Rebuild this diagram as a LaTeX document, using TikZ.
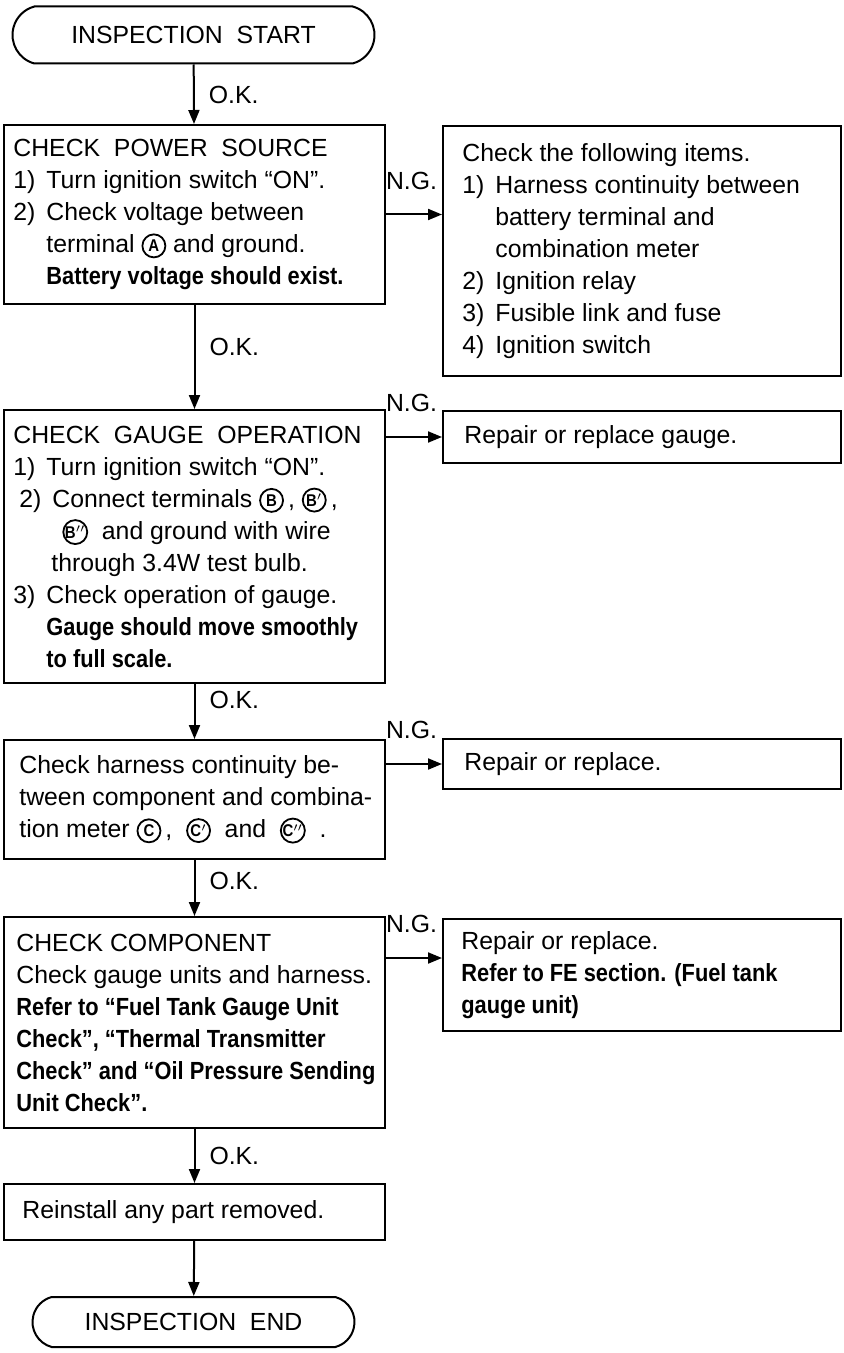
\documentclass[tikz,border=0pt]{standalone}
\usepackage{fontspec}
\setmainfont{Liberation Sans}[BoldFeatures={FakeStretch=0.88}]
\usetikzlibrary{arrows.meta, positioning, shapes.misc}
\tikzset{
  box/.style={draw, line width=1pt, anchor=north west, inner sep=0pt},
  termbox/.style={draw, line width=1pt, rounded rectangle, rounded rectangle arc length=150, inner sep=0pt},
  txt/.style={anchor=west, align=left, inner sep=0pt},
  flow/.style={draw, line width=1pt, -{Triangle[length=7pt, width=5.5pt]}},
  ok/.style={right=7pt, inner sep=0pt},
  ng/.style={anchor=south east, inner sep=0pt, xshift=-2pt, yshift=12pt},
  % Circled terminal letter
  circ/.style={circle, draw, line width=0.9pt, inner sep=0pt, minimum size=11.5pt, font=\fontsize{8.5}{9}\selectfont\bfseries}
}
\newcommand{\tmark}[1]{\tikz[baseline={([yshift=-0.4pt]T.base)}]\node[circ] (T) {#1};}
\newcommand{\itm}[1]{\makebox[16.5pt][l]{#1}}
\newcommand{\indt}{\hspace*{16.5pt}}

\begin{document}
\begin{tikzpicture}[x=0.5pt, y=-0.5pt, font=\fontsize{12.4}{16}\selectfont]
  \useasboundingbox (0,0) rectangle (843,1353);

  % ---- Start / end terminators ---------------------------------------------
  \node[termbox, minimum width=181pt, minimum height=28.5pt] (start) at (193.5, 35) {INSPECTION\ \ START};
  \node[termbox, minimum width=161pt, minimum height=25pt] (finish) at (193.5, 1322) {INSPECTION\ \ END};

  % ---- Main column of checks -----------------------------------------------
  \node[box, minimum width=190.5pt, minimum height=89.5pt] (pwr) at (3, 124) {};
  \node[box, minimum width=190.5pt, minimum height=136.5pt] (gauge) at (3, 409) {};
  \node[box, minimum width=190.5pt, minimum height=59.5pt] (harn) at (3, 739) {};
  \node[box, minimum width=190.5pt, minimum height=105.5pt] (comp) at (3, 916) {};
  \node[box, minimum width=190.5pt, minimum height=28pt] (redo) at (3, 1183) {};

  % ---- N.G. column ---------------------------------------------------------
  \node[box, minimum width=199pt, minimum height=125pt] (fix1) at (442, 125) {};
  \node[box, minimum width=199pt, minimum height=26pt] (fix2) at (442, 410) {};
  \node[box, minimum width=199pt, minimum height=25pt] (fix3) at (442, 738) {};
  \node[box, minimum width=199pt, minimum height=56pt] (fix4) at (442, 918) {};

  % ---- Box texts -----------------------------------------------------------
  \node[txt] (pwr-txt) at ([xshift=5pt]pwr.west)
    {CHECK\ \ POWER\ \ SOURCE\\
     \itm{1)}Turn ignition switch “ON”.\\
     \itm{2)}Check voltage between\\
     \indt terminal \tmark{A} and ground.\\
     \indt\textbf{Battery voltage should exist.}};
  \node[txt] (gauge-txt) at ([xshift=5pt]gauge.west)
    {CHECK\ \ GAUGE\ \ OPERATION\\
     \itm{1)}Turn ignition switch “ON”.\\
     \hspace*{3pt}\itm{2)}Connect terminals \tmark{B}\,, \tmark{B$'$}\,,\\
     \hspace*{24.5pt}\tmark{B$''$}\ \ and ground with wire\\
     \hspace*{19pt}through 3.4W test bulb.\\
     \itm{3)}Check operation of gauge.\\
     \indt\textbf{Gauge should move smoothly}\\
     \indt\textbf{to full scale.}};
  \node[txt] (harn-txt) at ([xshift=8pt]harn.west)
    {Check harness continuity be-\\
     tween component and combina-\\
     tion meter \tmark{C}\,, \ \tmark{C$'$}\ \ and \ \tmark{C$''$}\ \ .};
  \node[txt] (comp-txt) at ([xshift=6.5pt]comp.west)
    {CHECK COMPONENT\\
     Check gauge units and harness.\\
     \textbf{Refer to “Fuel Tank Gauge Unit}\\
     \textbf{Check”, “Thermal Transmitter}\\
     \textbf{Check” and “Oil Pressure Sending}\\
     \textbf{Unit Check”.}};
  \node[txt] (redo-txt) at ([xshift=9.5pt]redo.west) {Reinstall any part removed.};

  \node[txt] (fix1-txt) at ([xshift=10pt]fix1.west)
    {Check the following items.\\
     \itm{1)}Harness continuity between\\
     \indt battery terminal and\\
     \indt combination meter\\
     \itm{2)}Ignition relay\\
     \itm{3)}Fusible link and fuse\\
     \itm{4)}Ignition switch};
  \node[txt] (fix2-txt) at ([xshift=11pt]fix2.west) {Repair or replace gauge.};
  \node[txt] (fix3-txt) at ([xshift=11pt]fix3.west) {Repair or replace.};
  \node[txt] (fix4-txt) at ([xshift=9.5pt]fix4.west)
    {Repair or replace.\\
     \textbf{Refer to FE section. (Fuel tank}\\
     \textbf{gauge unit)}};

  % ---- O.K. flow -----------------------------------------------------------
  \draw[flow] (start) -- node[ok, pos=0.52] {O.K.} (pwr);
  \draw[flow] (pwr) -- node[ok, pos=0.4] {O.K.} (gauge);
  \draw[flow] (gauge) -- node[ok, pos=0.29] {O.K.} (harn);
  \draw[flow] (harn) -- node[ok, pos=0.38] {O.K.} (comp);
  \draw[flow] (comp) -- node[ok, pos=0.5] {O.K.} (redo);
  \draw[flow] (redo) -- (finish);

  % ---- N.G. branches -------------------------------------------------------
  \draw[flow] (pwr.east) -- node[ng, pos=1] {N.G.} (pwr.east -| fix1.west);
  \draw[flow] (gauge.east |- fix2.west) -- node[ng, pos=1] {N.G.} (fix2.west);
  \draw[flow] (harn.east |- fix3.west) -- node[ng, pos=1] {N.G.} (fix3.west);
  \draw[flow] ([yshift=-21pt]comp.north east) -- node[ng, pos=1] {N.G.} ([yshift=-21pt]comp.north east -| fix4.west);

\end{tikzpicture}
\end{document}
